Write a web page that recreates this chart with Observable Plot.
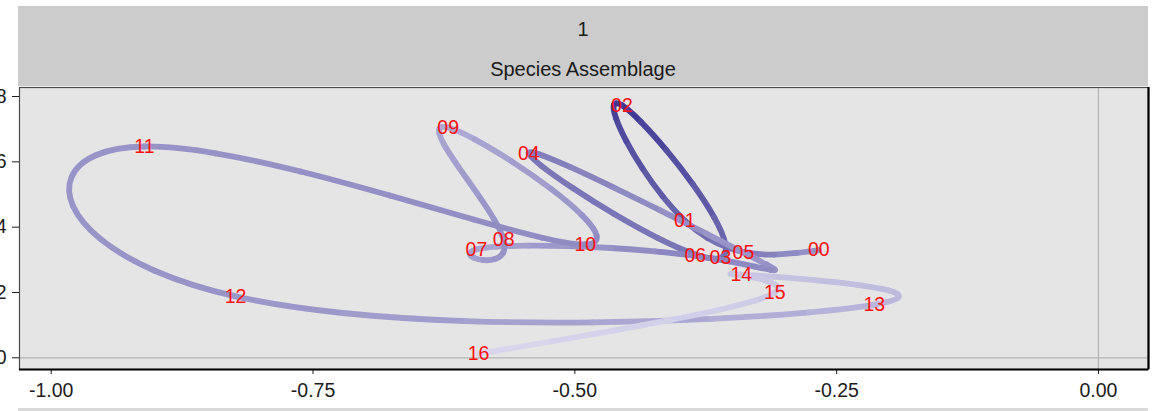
<!DOCTYPE html>
<html>
<head>
<meta charset="utf-8">
<script src="https://cdn.jsdelivr.net/npm/d3@7"></script>
<script src="https://cdn.jsdelivr.net/npm/@observablehq/plot@0.6"></script>
<style>
  body { margin: 0; background: #ffffff; font-family: "Liberation Sans", Arial, sans-serif; }
  #wrap { position: relative; width: 1165px; height: 411px; overflow: hidden; }
  #chart { position: absolute; left: 0; top: 0; }
  #strip { position: absolute; left: 18px; top: 6px; width: 1130px; height: 80px; background: #cccccc; }
  .st { position: absolute; left: 0; width: 100%; text-align: center; font-size: 20px; line-height: 20px; color: #1a1a1a; white-space: nowrap; }
  #bottomline { position: absolute; left: 18px; top: 408px; width: 1130px; height: 3px; background: #d9d9d9; }
</style>
</head>
<body>
<div id="wrap">
  <div id="chart"></div>
  <div id="strip"><div class="st" id="facet" style="top:12.5px"></div><div class="st" id="panel" style="top:53px"></div></div>
  <div id="bottomline"></div>
</div>
<script>
// ---- data ----
const years   = ["00","01","02","03","04","05","06","07","08","09","10","11","12","13","14","15","16"];
const xScores = [-0.267,-0.395,-0.455,-0.361,-0.544,-0.339,-0.385,-0.594,-0.568,-0.621,-0.490,-0.911,-0.824,-0.214,-0.341,-0.309,-0.592];
const yScores = [0.330,0.420,0.773,0.306,0.626,0.322,0.312,0.332,0.362,0.705,0.347,0.647,0.188,0.163,0.255,0.200,0.012];
const shade   = [0.42,0.70,1.00,0.62,0.60,0.40,0.52,0.30,0.45,0.28,0.48,0.42,0.42,0.22,0.12,0.10,0.02];
const facetLabel = "1";
const panelLabel = "Species Assemblage";
const xTicks = [-1.00,-0.75,-0.50,-0.25,0.00];
const yTicks = [0.0,0.2,0.4,0.6,0.8];

// ---- layout / style ----
const xDomain = [-1.0303, 0.0478];
const yDomain = [-0.0358, 0.8276];
const FONT = "'Liberation Sans', Arial, sans-serif";

document.getElementById("facet").textContent = facetLabel;
document.getElementById("panel").textContent = panelLabel;

const points = years.map((label, i) => ({label, x: xScores[i], y: yScores[i], shade: shade[i]}));

// natural cubic spline through all points (as d3.curveNatural), drawing only one piece
function naturalPieces(pts) {
  const segs = [];
  const rec = {
    moveTo() {}, closePath() {},
    lineTo(x, y) { segs.push([x, y, x, y, x, y]); },
    bezierCurveTo(a, b, c, d, e, f) { segs.push([a, b, c, d, e, f]); }
  };
  const c = d3.curveNatural(rec);
  c.lineStart();
  for (const [x, y] of pts) c.point(x, y);
  c.lineEnd();
  return segs;
}
const lerp = (a, b, t) => [a[0] + (b[0] - a[0]) * t, a[1] + (b[1] - a[1]) * t];
function splitAt(p0, p1, p2, p3, t) {
  const a = lerp(p0, p1, t), b = lerp(p1, p2, t), c = lerp(p2, p3, t);
  const d = lerp(a, b, t), e = lerp(b, c, t), f = lerp(d, e, t);
  return [[p0, a, d, f], [f, e, c, p3]];
}
function subBezier(P, t0, t1) {
  const left = splitAt(...P, t1)[0];
  if (t0 <= 0) return left;
  return splitAt(...left, t0 / t1)[1];
}
function pieceCurve(seg, t0, t1) {
  return (context) => {
    let pts = [];
    return {
      areaStart() {}, areaEnd() {},
      lineStart() { pts = []; },
      point(x, y) { pts.push([+x, +y]); },
      lineEnd() {
        const segs = naturalPieces(pts);
        const s = segs[seg];
        const P = [pts[seg], [s[0], s[1]], [s[2], s[3]], [s[4], s[5]]];
        const Q = subBezier(P, t0, t1);
        context.moveTo(Q[0][0], Q[0][1]);
        context.bezierCurveTo(Q[1][0], Q[1][1], Q[2][0], Q[2][1], Q[3][0], Q[3][1]);
      }
    };
  };
}

const SUB = 6;
const pathMarks = [];
for (let s = 0; s < points.length - 1; s++) {
  for (let k = 0; k < SUB; k++) {
    const t0 = k / SUB, t1 = (k + 1) / SUB, tm = (t0 + t1) / 2;
    const v = points[s].shade + (points[s + 1].shade - points[s].shade) * tm;
    pathMarks.push(Plot.line(points, {
      x: "x", y: "y",
      curve: pieceCurve(s, t0, t1),
      stroke: () => v,
      strokeWidth: 5.8,
      strokeLinecap: "round"
    }));
  }
}

const chart = Plot.plot({
  width: 1165,
  height: 411,
  marginTop: 87,
  marginBottom: 42,
  marginLeft: 19,
  marginRight: 17,
  style: {fontFamily: FONT, fontSize: "19.5px", color: "#1c1c1c", background: "transparent", overflow: "visible"},
  x: {domain: xDomain, ticks: xTicks, tickFormat: d => d.toFixed(2), tickSize: 5, tickPadding: 9, label: null},
  y: {domain: yDomain, ticks: yTicks, tickFormat: d => d.toFixed(1), tickSize: 7, tickPadding: 6, label: null},
  color: {type: "linear", domain: [0, 1], range: ["#dcd9ef", "#3b3591"], interpolate: "rgb"},
  marks: [
    Plot.frame({fill: "#e5e5e5"}),
    Plot.ruleX([0], {stroke: "#b4b4b4", strokeWidth: 1.2}),
    Plot.ruleY([0], {stroke: "#b4b4b4", strokeWidth: 1.2}),
    ...pathMarks,
    Plot.text(points, {x: "x", y: "y", text: "label", fill: "#ff1010", fontSize: 19.5, fontFamily: FONT}),
    Plot.frame({stroke: "#4a4a4a", strokeWidth: 1.2}),
    Plot.ruleY([yDomain[0]], {stroke: "#000", strokeWidth: 2.2}),
    Plot.ruleX([xDomain[1]], {stroke: "#000", strokeWidth: 2.2})
  ]
});
document.getElementById("chart").appendChild(chart);
</script>
</body>
</html>
